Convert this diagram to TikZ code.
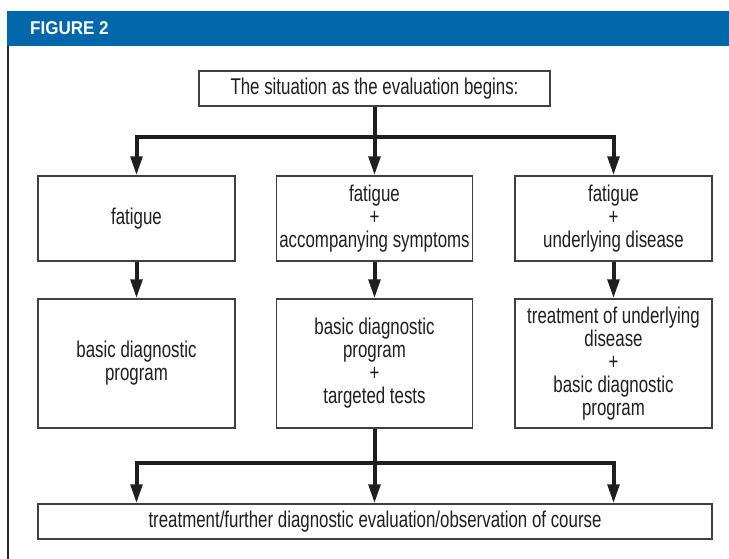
\documentclass[tikz,border=0pt]{standalone}
\usepackage{fontspec}
\usepackage{tikz}
\usetikzlibrary{arrows.meta}
\newfontfamily\boxfont{Liberation Sans}[FakeStretch=0.74]
\newfontfamily\headfont{Liberation Sans}[FakeStretch=0.92]

\begin{document}
\begin{tikzpicture}
			[x=1pt,y=-1pt,line cap=butt,
			%Styles
			main box/.style={draw=boxgray,line width=1.4pt,fill=white,text=textgray,inner sep=0pt,
				align=center,font=\boxfont\fontsize{22.8}{23}\selectfont},
			conn/.style={line width=4pt,draw=linegray},
			arrow line/.style={conn,-{Triangle[length=19pt,width=11.5pt]}},
			header text/.style={text=white,anchor=west,inner sep=0pt,font=\headfont\bfseries\fontsize{18.5}{20}\selectfont}
			]
			
			%Colors
			\colorlet{boxgray}{black!75}	%box borders
			\colorlet{textgray}{black!88}
			\colorlet{linegray}{black!88}
			\definecolor{headblue}{RGB}{0,103,171}
			
			\useasboundingbox (0,0) rectangle (729,559);
			
			%Header and frame
			\fill[headblue] (7,11) rectangle (729,46);
			\node[header text] (head) at (30,28.5) {FIGURE 2};
			\draw[black!85,line width=2pt] (7.5,46) -- (7.5,559);
			
			%The graphic
			\node[main box,minimum width=351pt,minimum height=35pt] (start) at (374.5,88.5) {The situation as the evaluation begins:};
			
			\node[main box,minimum width=197pt,minimum height=85pt] (fat) at (136.5,218.5) {fatigue};
			\node[main box,minimum width=196pt,minimum height=85pt] (fatsym) at (374.5,218.5) {fatigue\\+\\accompanying symptoms};
			\node[main box,minimum width=197pt,minimum height=85pt] (fatdis) at (613.5,218.5) {fatigue\\+\\underlying disease};
			
			\node[main box,minimum width=197pt,minimum height=129pt] (basic) at (136.5,363.5) {basic diagnostic\\program};
			\node[main box,minimum width=196pt,minimum height=129pt] (basictest) at (374.5,363.5) {basic diagnostic\\program\\+\\targeted tests};
			\node[main box,minimum width=197pt,minimum height=129pt] (treatbasic) at (613.5,363.5) {treatment of underlying\\disease\\+\\basic diagnostic\\program};
			
			\node[main box,minimum width=674pt,minimum height=35pt] (final) at (375,521.5) {treatment/further diagnostic evaluation/observation of course};
			
			%Connectors
			\draw[conn] (start.south) -- ++(0,30) coordinate (split);
			\draw[arrow line] (split) -| (fat.north);
			\draw[arrow line] (split) -- (fatsym.north);
			\draw[arrow line] (split) -| (fatdis.north);
			
			\draw[arrow line] (fat) -- (basic);
			\draw[arrow line] (fatsym) -- (basictest);
			\draw[arrow line] (fatdis) -- (treatbasic);
			
			\draw[conn] (basictest.south) -- ++(0,34) coordinate (join);
			\draw[arrow line] (join) -| (final.north -| fat.south);
			\draw[arrow line] (join) -- (final.north -| join);
			\draw[arrow line] (join) -| (final.north -| fatdis.south);
		\end{tikzpicture}
\end{document}
